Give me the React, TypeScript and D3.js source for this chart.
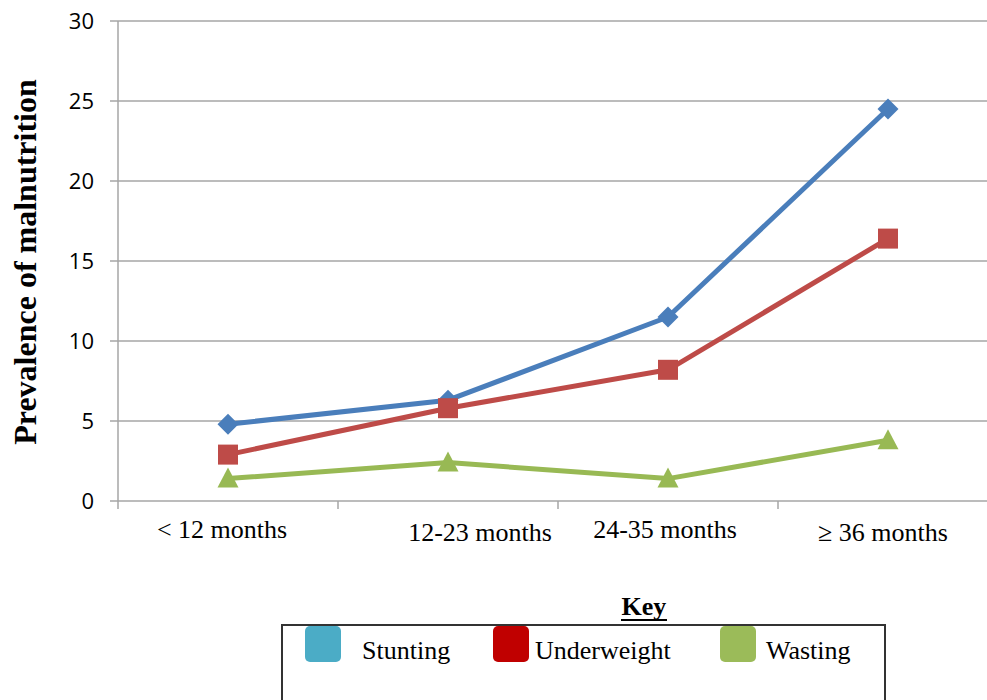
import React from "react";
import * as d3 from "d3";

const categories = ["< 12 months", "12-23 months", "24-35 months", "≥ 36 months"];
const stunting = [4.8, 6.3, 11.5, 24.5];
const underweight = [2.9, 5.8, 8.2, 16.4];
const wasting = [1.4, 2.4, 1.4, 3.8];
const yTicks = [0, 5, 10, 15, 20, 25, 30];
const legendLabels = ["Stunting", "Underweight", "Wasting"];

const W = 987;
const H = 700;
const left = 118;
const x = d3.scaleBand<string>().domain(categories).range([left, 998]).padding(0);
const y = d3.scaleLinear().domain([0, 30]).range([501, 21]);

const labelDx = [-6, 32, -3, -5];
const labelDy = [529, 532, 529, 532];

export default function App() {
  const line = d3
    .line<number>()
    .x((_, i) => (x(categories[i]) as number) + x.bandwidth() / 2)
    .y((d) => y(d));

  const series = [
    { name: "Stunting", values: stunting, color: "#4A7EBB", marker: "diamond" },
    { name: "Underweight", values: underweight, color: "#BE4B48", marker: "square" },
    { name: "Wasting", values: wasting, color: "#98B954", marker: "triangle" },
  ];
  const legendColors = ["#4BACC6", "#C00000", "#9BBB59"];
  const legendSwatchX = [305, 493, 720];
  const legendTextX = [362, 535, 766];

  const marker = (type: string, cx: number, cy: number, color: string, key: string) => {
    if (type === "diamond") {
      const s = 10.5;
      return (
        <path key={key} d={`M${cx},${cy - s}L${cx + s},${cy}L${cx},${cy + s}L${cx - s},${cy}Z`} fill={color} />
      );
    }
    if (type === "square") {
      const s = 10;
      return <rect key={key} x={cx - s} y={cy - s} width={2 * s} height={2 * s} fill={color} />;
    }
    return (
      <path key={key} d={`M${cx},${cy - 11}L${cx + 10.5},${cy + 9}L${cx - 10.5},${cy + 9}Z`} fill={color} />
    );
  };

  const serif = "'Liberation Serif', 'Times New Roman', serif";

  return (
    <svg
      width={W}
      height={H}
      style={{ position: "absolute", left: 0, top: 0, background: "#fff" }}
    >
      {yTicks.map((t) => (
        <line key={"g" + t} x1={left} x2={W} y1={y(t)} y2={y(t)} stroke="#A6A6A6" strokeWidth={1.5} />
      ))}
      <line x1={left} x2={left} y1={y(30)} y2={y(0) + 8} stroke="#A6A6A6" strokeWidth={1.5} />
      {yTicks.map((t) => (
        <g key={"yt" + t}>
          <line x1={left - 8} x2={left} y1={y(t)} y2={y(t)} stroke="#A6A6A6" strokeWidth={1.5} />
          <text
            x={94}
            y={y(t)}
            dy="0.36em"
            textAnchor="end"
            fontFamily="'Open Sans', sans-serif"
            fontSize={22}
            fill="#000"
          >
            {t}
          </text>
        </g>
      ))}
      {categories.map((c) => (
        <line
          key={"xt" + c}
          x1={(x(c) as number) + x.bandwidth()}
          x2={(x(c) as number) + x.bandwidth()}
          y1={y(0)}
          y2={y(0) + 8}
          stroke="#A6A6A6"
          strokeWidth={1.5}
        />
      ))}
      {categories.map((c, i) => (
        <text
          key={"xl" + c}
          x={(x(c) as number) + x.bandwidth() / 2 + labelDx[i]}
          y={labelDy[i]}
          dy="0.35em"
          textAnchor="middle"
          fontFamily={serif}
          fontSize={26}
          fill="#000"
        >
          {c}
        </text>
      ))}
      <text
        transform={`translate(36,262) rotate(-90)`}
        textAnchor="middle"
        fontFamily={serif}
        fontWeight="bold"
        fontSize={32}
        fill="#000"
      >
        Prevalence of malnutrition
      </text>
      {series.map((s) => (
        <g key={s.name}>
          <path d={line(s.values) || ""} fill="none" stroke={s.color} strokeWidth={5} strokeLinejoin="round" />
          {s.values.map((v, i) =>
            marker(s.marker, (x(categories[i]) as number) + x.bandwidth() / 2, y(v), s.color, s.name + i)
          )}
        </g>
      ))}
      <text
        x={644}
        y={615}
        textAnchor="middle"
        fontFamily={serif}
        fontWeight="bold"
        fontSize={26}
        fill="#000"
      >
        Key
      </text>
      <line x1={644 - 23} x2={644 + 23} y1={620} y2={620} stroke="#000" strokeWidth={2} />
      <rect x={282} y={625} width={603} height={100} fill="none" stroke="#333" strokeWidth={2} />
      {legendLabels.map((l, i) => (
        <g key={"lg" + l}>
          <rect x={legendSwatchX[i]} y={626} width={36} height={36} rx={5} fill={legendColors[i]} />
          <text x={legendTextX[i]} y={659} fontFamily={serif} fontSize={26} fill="#000">
            {l}
          </text>
        </g>
      ))}
    </svg>
  );
}
